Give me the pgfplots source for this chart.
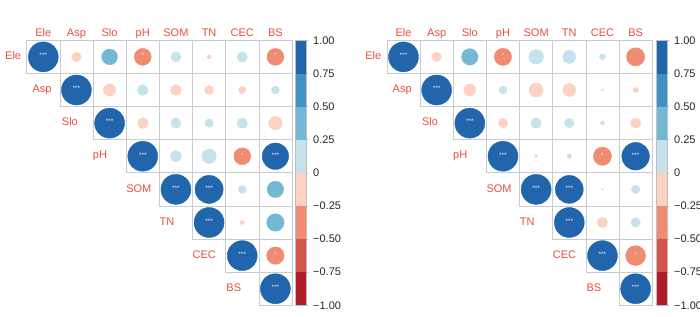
\documentclass[border=0pt]{standalone}
\usepackage{fontspec}
\setmainfont{Liberation Sans}
\usepackage{pgfplots}
\usepackage{pgfplotstable}
\pgfplotsset{compat=1.18}
\definecolor{labred}{RGB}{232,78,62}
\definecolor{gridgray}{RGB}{200,203,207}

\pgfplotstableread{
c r v
1 1 1
2 1 -0.10
3 1 0.28
4 1 -0.32
5 1 0.11
6 1 -0.02
7 1 0.12
8 1 -0.32
2 2 1
3 2 -0.17
4 2 0.13
5 2 -0.13
6 2 -0.09
7 2 -0.06
8 2 0.07
3 3 1
4 3 -0.13
5 3 0.11
6 3 0.08
7 3 0.12
8 3 -0.20
4 4 1
5 4 0.14
6 4 0.23
7 4 -0.32
8 4 0.78
5 5 1
6 5 0.88
7 5 0.07
8 5 0.30
6 6 1
7 6 -0.02
8 6 0.34
7 7 1
8 7 -0.34
8 8 1
}\leftdata

\pgfplotstableread{
c r v
1 1 1
2 1 -0.10
3 1 0.30
4 1 -0.33
5 1 0.24
6 1 0.19
7 1 0.04
8 1 -0.37
2 2 1
3 2 -0.16
4 2 0.07
5 2 -0.22
6 2 -0.19
7 2 -0.005
8 2 -0.03
3 3 1
4 3 -0.10
5 3 0.12
6 3 0.10
7 3 -0.02
8 3 -0.12
4 4 1
5 4 0.01
6 4 0.02
7 4 -0.37
8 4 0.85
5 5 1
6 5 0.87
7 5 -0.005
8 5 0.08
6 6 1
7 6 -0.12
8 6 0.10
7 7 1
8 7 -0.44
8 8 1
}\rightdata

\pgfplotstableread{
c r s
1 1 ***
2 2 ***
3 3 ***
4 4 ***
5 5 ***
6 6 ***
7 7 ***
8 8 ***
8 4 ***
6 5 ***
4 1 *
8 1 *
7 4 *
8 7 *
}\leftstars

\pgfplotstableread{
c r s
1 1 ***
2 2 ***
3 3 ***
4 4 ***
5 5 ***
6 6 ***
7 7 ***
8 8 ***
8 4 ***
6 5 ***
4 1 *
7 4 *
8 7 *
}\rightstars

\pgfplotstableread{
x y lab
-0.155 1 Ele
0.669 2 Asp
1.557 3 Slo
2.492 4 pH
3.498 5 SOM
4.503 6 TN
5.499 7 CEC
6.517 8 BS
}\rowlabels

\pgfplotsset{
  corrax/.style={
    scale only axis, width=265.3pt, height=265pt,
    xmin=0.5, xmax=8.5, ymin=0.5, ymax=8.5, y dir=reverse,
    axis line style={draw=none},
    xtick={1,...,8}, xticklabels={Ele,Asp,Slo,pH,SOM,TN,CEC,BS},
    xticklabel pos=upper, ytick=\empty,
    major tick length=0pt,
    xticklabel style={font=\fontsize{11}{13}\selectfont, text=labred, anchor=base, inner sep=0pt, yshift=4pt},
    clip=false,
    point meta min=-1, point meta max=1,
    colormap={corr}{rgb255=(175,30,40) rgb255=(210,85,75) rgb255=(240,140,115) rgb255=(252,210,195) rgb255=(198,226,237) rgb255=(115,185,212) rgb255=(62,146,196) rgb255=(33,102,172)},
    colormap access=piecewise constant,
    colorbar,
    colorbar shift/.style={xshift=#1},
    colorbar style={
      width=10.7pt,
      at={(parent axis.north east)}, anchor=north west,
      ytick={-1,-0.75,-0.5,-0.25,0,0.25,0.5,0.75,1},
      yticklabels={−1.00,−0.75,−0.50,−0.25,0,0.25,0.50,0.75,1.00},
      yticklabel style={font=\fontsize{11}{13}\selectfont, text=black!85, inner sep=0pt, xshift=5pt},
      ytick pos=right,
      tick align=outside,
      major tick length=2pt,
      tick style={gray!60, line width=0.4pt},
      axis line style={gray!50, line width=0.5pt},
    },
  },
  circles/.style={scatter, only marks, mark=*, point meta=explicit,
    scatter/use mapped color={draw=mapped color, fill=mapped color},
    visualization depends on={15*sqrt(abs(\thisrow{v})) \as \rad},
    scatter/@pre marker code/.append style={/tikz/mark size=\rad}},
  rowlab/.style={only marks, mark=none, point meta=explicit symbolic, nodes near coords,
    nodes near coords style={anchor=base west, inner sep=0pt, yshift=-2.7pt, text=labred, font=\fontsize{11}{13}\selectfont}},
  starlab/.style={only marks, mark=none, point meta=explicit symbolic, nodes near coords,
    nodes near coords style={anchor=base, inner sep=0pt, yshift=-0.8pt, text=white!92!black, font=\fontsize{6.5}{7}\selectfont}},
}

\begin{document}
\begin{tikzpicture}
\begin{scope}[shift={(26.7pt,275.7pt)}, x=33.1625pt, y=-33.125pt]
  \foreach \r in {0,...,7}{\foreach \c in {\r,...,7}{\draw[gridgray, line width=0.6pt] (\c,\r) rectangle (\c+1,\r+1);}}
\end{scope}
\begin{scope}[shift={(386.9pt,275.7pt)}, x=33.1625pt, y=-33.125pt]
  \foreach \r in {0,...,7}{\foreach \c in {\r,...,7}{\draw[gridgray, line width=0.6pt] (\c,\r) rectangle (\c+1,\r+1);}}
\end{scope}

\begin{axis}[corrax=3.3pt, at={(26.7pt,10.7pt)}, anchor=south west]
\addplot[circles] table[x=c, y=r, meta=v] {\leftdata};
\addplot[rowlab] table[x=x, y=y, meta=lab] {\rowlabels};
\addplot[starlab] table[x=c, y=r, meta=s] {\leftstars};
\end{axis}

\begin{axis}[corrax=4.1pt, at={(386.9pt,10.7pt)}, anchor=south west]
\addplot[circles] table[x=c, y=r, meta=v] {\rightdata};
\addplot[rowlab] table[x=x, y=y, meta=lab] {\rowlabels};
\addplot[starlab] table[x=c, y=r, meta=s] {\rightstars};
\end{axis}

\pgfresetboundingbox
\path[use as bounding box] (0,0) rectangle (700pt,316pt);
\end{tikzpicture}
\end{document}
